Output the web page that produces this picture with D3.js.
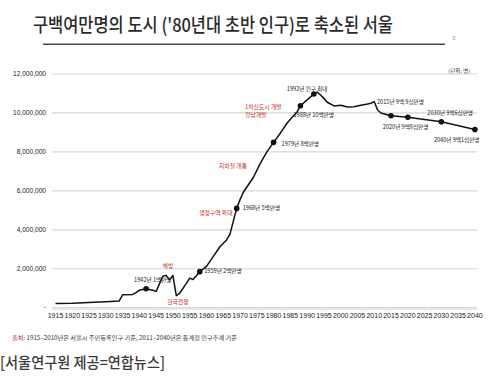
<!DOCTYPE html>
<html>
<head>
<meta charset="utf-8">
<script src="https://cdn.jsdelivr.net/npm/d3@7"></script>
<style>
  html, body { margin: 0; padding: 0; background: #fff; }
  svg { display: block; }
</style>
</head>
<body>
<svg id="chart" width="497" height="378"></svg>
<script>
// ---------- data ----------
const titleText = "구백여만명의 도시 ('80년대 초반 인구)로 축소된 서울";
const pageNumber = "3";
const unitText = "(단위: 명)";
const sourceText = "출처: 1915~2010년은 서울시 주민등록인구 기준, 2011~2040년은 통계청 인구추계 기준";
const captionText = "[서울연구원 제공=연합뉴스]";

const years = [1915,1920,1925,1930,1934,1935,1938,1939,1940,1942,1944,1945,1947,1948,1949,1950,1951,1952,1954,1955,1956,1958,1960,1962,1964,1966,1967,1969,1970,1971,1974,1976,1978,1980,1982,1984,1985,1987,1988,1990,1992,1993,1994,1995,1996,1998,2000,2002,2004,2006,2008,2009,2010,2011,2012,2015,2020,2030,2040];
const population = [210000,230000,270000,310000,350000,660000,680000,770000,900000,970000,900000,840000,1620000,1660000,1420000,1650000,620000,740000,1250000,1520000,1450000,1850000,2120000,2620000,3130000,3480000,3780000,5100000,5550000,5930000,6700000,7400000,8000000,8490000,8960000,9470000,9680000,10050000,10370000,10670000,10970000,11070000,10920000,10750000,10550000,10360000,10400000,10310000,10320000,10400000,10460000,10500000,10580000,10150000,10000000,9860000,9780000,9550000,9150000];

const markerYears = [1942,1958,1969,1980,1988,1992,2015,2020,2030,2040];
const markerValues = [970000,1850000,5100000,8490000,10370000,10970000,9860000,9780000,9550000,9150000];
const markerLabels = ["1942년 1백만명","1959년 2백만명","1968년 5백만명","1979년 8백만명","1988년 10백만명","1992년 인구 최대","2015년 9백 9십만명","2020년 9백8십만명","2030년 9백6십만명","2040년 9백1십만명"];

const noteTexts = ["1차신도시 개발","강남개발","지하철 개통","행정구역 확대","해방","한국전쟁"];
const noteYears = [1971.5,1971.5,1967.9,1962.8,1948.5,1951.5];
const noteValues = [10280000,9860000,7280000,4860000,2140000,260000];
const noteAnchors = ["start","start","middle","middle","middle","middle"];

const yTicks = [0,2000000,4000000,6000000,8000000,10000000,12000000];
const yTickLabels = ["-","2,000,000","4,000,000","6,000,000","8,000,000","10,000,000","12,000,000"];
const xTickYears = [1915,1920,1925,1930,1935,1940,1945,1950,1955,1960,1965,1970,1975,1980,1985,1990,1995,2000,2005,2010,2015,2020,2025,2030,2035,2040];
const xTickLabels = ["1915","1920","1925","1930","1935","1940","1945","1950","1955","1960","1965","1970","1975","1980","1985","1990","1995","2000","2005","2010","2015","2020","2025","2030","2035","2040"];

// ---------- layout ----------
const svg = d3.select("#chart");
const x = d3.scaleLinear().domain([1915, 2040]).range([55.5, 474.9]);
const y = d3.scaleLinear().domain([0, 12000000]).range([307.7, 74]);
const gridX0 = 52, gridX1 = 477;
const krFont = "'Noto Sans CJK KR', 'Noto Sans', sans-serif";
const latFont = "'Liberation Sans', Arial, sans-serif";
const red = "#c0302b";

// label offsets (px) relative to marker positions
const labelOffsets = [[-12,-8.3],[4.5,0.3],[6,0],[8,2.5],[-7,10],[-27,-5],[-14,-13],[-25,10.7],[-14,-8],[-41,10.5]];

// title
svg.append("text").attr("x", 33).attr("y", 32)
  .attr("font-family", krFont).attr("font-size", 19).attr("font-weight", 500).attr("fill", "#2b2b2b")
  .attr("textLength", 360).attr("lengthAdjust", "spacingAndGlyphs")
  .text(titleText);
svg.append("line").attr("x1", 43).attr("x2", 445).attr("y1", 44.3).attr("y2", 44.3)
  .attr("stroke", "#4a4a4a").attr("stroke-width", 1.5);
svg.append("text").attr("x", 452).attr("y", 40)
  .attr("font-family", latFont).attr("font-size", 6).attr("fill", "#999")
  .text(pageNumber);
svg.append("text").attr("x", 470).attr("y", 71).attr("text-anchor", "end")
  .attr("dominant-baseline", "middle")
  .attr("font-family", krFont).attr("font-size", 5.5).attr("fill", "#333")
  .text(unitText);

// gridlines
svg.append("g").selectAll("line").data(yTicks).join("line")
  .attr("x1", gridX0).attr("x2", gridX1)
  .attr("y1", d => y(d)).attr("y2", d => y(d))
  .attr("stroke", "#d6d6d6").attr("stroke-width", 1.2);

// y labels
svg.append("g").selectAll("text").data(yTicks).join("text")
  .attr("x", 46).attr("y", d => y(d)).attr("text-anchor", "end")
  .attr("dominant-baseline", "middle")
  .attr("font-family", latFont).attr("font-size", 6.6).attr("fill", "#222")
  .text((d, i) => yTickLabels[i]);

// x axis minor ticks (each year)
const axisY = y(0) + 1.3;
const tickYears = d3.range(1915, 2041);
svg.append("g").selectAll("line").data(tickYears).join("line")
  .attr("x1", d => x(d)).attr("x2", d => x(d))
  .attr("y1", axisY - 0.5).attr("y2", axisY + 1.5)
  .attr("stroke", "#cfcfcf").attr("stroke-width", 0.6);
svg.append("line").attr("x1", gridX0).attr("x2", gridX1)
  .attr("y1", axisY).attr("y2", axisY).attr("stroke", "#d6d6d6").attr("stroke-width", 0.8);

// x labels
svg.append("g").selectAll("text").data(xTickYears).join("text")
  .attr("x", d => x(d)).attr("y", 316).attr("text-anchor", "middle")
  .attr("dominant-baseline", "middle")
  .attr("font-family", latFont).attr("font-size", 7).attr("fill", "#1a1a1a")
  .text((d, i) => xTickLabels[i]);

// line
const series = years.map((yr, i) => [yr, population[i]]);
svg.append("path").datum(series)
  .attr("fill", "none").attr("stroke", "#111").attr("stroke-width", 1.5)
  .attr("stroke-linejoin", "round")
  .attr("d", d3.line().x(d => x(d[0])).y(d => y(d[1])));

// markers
svg.append("g").selectAll("circle").data(markerYears).join("circle")
  .attr("cx", d => x(d)).attr("cy", (d, i) => y(markerValues[i]))
  .attr("r", 2.8).attr("fill", "#111");

// marker labels
svg.append("g").selectAll("text").data(markerLabels).join("text")
  .attr("x", (d, i) => x(markerYears[i]) + labelOffsets[i][0])
  .attr("y", (d, i) => y(markerValues[i]) + labelOffsets[i][1])
  .attr("dominant-baseline", "middle")
  .attr("font-family", krFont).attr("font-size", 5.6).attr("fill", "#222")
  .text(d => d);

// red notes
svg.append("g").selectAll("text").data(noteTexts).join("text")
  .attr("x", (d, i) => x(noteYears[i]))
  .attr("y", (d, i) => y(noteValues[i]))
  .attr("text-anchor", (d, i) => noteAnchors[i])
  .attr("dominant-baseline", "middle")
  .attr("font-family", krFont).attr("font-size", 5.8).attr("fill", red)
  .text(d => d);

// source
const src = svg.append("text").attr("x", 12).attr("y", 337.5)
  .attr("dominant-baseline", "middle")
  .attr("font-family", krFont).attr("font-size", 5.5).attr("fill", "#333")
  .attr("textLength", 225).attr("lengthAdjust", "spacingAndGlyphs");
src.append("tspan").attr("fill", "#8a2020").text(sourceText.slice(0, 3));
src.append("tspan").text(sourceText.slice(3));

// caption
svg.append("text").attr("x", 0).attr("y", 363.5)
  .attr("dominant-baseline", "middle")
  .attr("font-family", krFont).attr("font-size", 15).attr("font-weight", 500).attr("fill", "#3a3a3a")
  .attr("textLength", 165).attr("lengthAdjust", "spacingAndGlyphs")
  .text(captionText);
</script>
</body>
</html>
